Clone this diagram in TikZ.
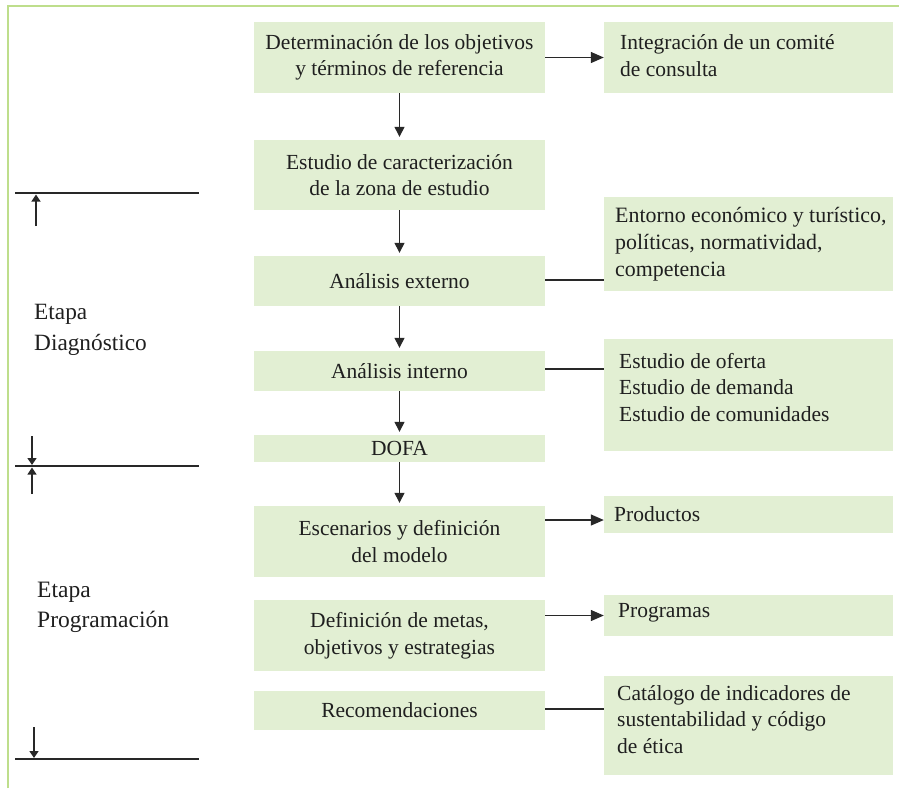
\documentclass[tikz,border=0pt]{standalone}
\usepackage{fontspec}
\setmainfont{Liberation Serif}
\usetikzlibrary{arrows.meta,calc}
\definecolor{boxgreen}{RGB}{226,239,211}
\definecolor{framegreen}{RGB}{190,222,140}
\definecolor{linegray}{RGB}{40,40,40}
\begin{document}
\begin{tikzpicture}[x=1pt,y=-1pt,
  every node/.style={font=\fontsize{21.5}{26.5}\selectfont, text=black!88},
  lbox/.style={fill=boxgreen, draw=none, minimum width=291pt, inner sep=0pt, align=center},
  rbox/.style={fill=boxgreen, draw=none, minimum width=289pt, inner sep=0pt},
  rtext/.style={anchor=base west, inner sep=0pt, align=left},
  conn/.style={draw=linegray, line width=1.3pt},
  arr/.style={conn, -{Triangle[length=10pt,width=10pt]}},
  harr/.style={conn, -{Triangle[length=13pt,width=11pt]}},
  sarr/.style={conn, -{Triangle[length=7pt,width=9pt]}},
]
\useasboundingbox (0,0) rectangle (899,788);
% frame
\coordinate (fA) at (8,788);
\coordinate (fB) at (8,6);
\coordinate (fC) at (899,6);
\draw[framegreen, line width=2.2pt] (fA) -- (fB) -- (fC);

% left column boxes
\node[lbox, minimum height=71pt] (b1) at (399.5,57.5) {Determinación de los objetivos\\y términos de referencia};
\node[lbox, minimum height=70pt] (b2) at (399.5,175) {Estudio de caracterización\\de la zona de estudio};
\node[lbox, minimum height=50pt] (b3) at (399.5,281) {Análisis externo};
\node[lbox, minimum height=40pt] (b4) at (399.5,371) {Análisis interno};
\node[lbox, minimum height=27pt] (b5) at (399.5,448.5) {DOFA};
\node[lbox, minimum height=71pt] (b6) at (399.5,541.5) {Escenarios y definición\\del modelo};
\node[lbox, minimum height=71pt] (b7) at (399.5,635.5) {Definición de metas,\\objetivos y estrategias};
\node[lbox, minimum height=39pt] (b8) at (399.5,710.5) {Recomendaciones};

% right column boxes
\node[rbox, minimum height=71pt] (ra) at (748.5,57.5) {};
\node[rbox, minimum height=94pt] (rb) at (748.5,244) {};
\node[rbox, minimum height=112pt] (rc) at (748.5,395) {};
\node[rbox, minimum height=37pt] (rd) at (748.5,514.5) {};
\node[rbox, minimum height=41pt] (re) at (748.5,615.5) {};
\node[rbox, minimum height=99pt] (rf) at (748.5,725.5) {};

% right texts (base anchor = baseline of last line)
\node[rtext] (ta) at (620,76) {Integración de un comité\\de consulta};
\node[rtext, font=\fontsize{21.9}{27}\selectfont] (tb) at (615,276) {Entorno económico y turístico,\\políticas, normatividad,\\competencia};
\node[rtext] (tc) at (619,421) {Estudio de oferta\\Estudio de demanda\\Estudio de comunidades};
\node[rtext] (td) at (614,521) {Productos};
\node[rtext] (te) at (618,617) {Programas};
\node[rtext] (tf) at (617,753) {Catálogo de indicadores de\\sustentabilidad y código\\de ética};

% vertical arrows
\draw[arr, shorten >=3pt] (b1) -- (b2);
\draw[arr, shorten >=3pt] (b2) -- (b3);
\draw[arr, shorten >=3pt] (b3) -- (b4);
\draw[arr, shorten >=3pt] (b4) -- (b5);
\draw[arr, shorten >=3pt] (b5) -- (b6);

% horizontal connectors
\draw[harr] (b1.east) -- (b1.east -| ra.west);
\draw[conn] ([yshift=1pt]b3.east) -- ([yshift=1pt]b3.east -| rb.west);
\draw[conn] ([yshift=2pt]b4.east) -- ([yshift=2pt]b4.east -| rc.west);
\draw[harr] ([yshift=-5.5pt]rd.west -| b6.east) -- ([yshift=-5.5pt]rd.west);
\draw[harr] (re.west -| b7.east) -- (re.west);
\draw[conn] ([yshift=1.5pt]b8.east) -- ([yshift=1.5pt]b8.east -| rf.west);

% left stage markers
\coordinate (h1a) at (15,193);  \coordinate (h1b) at (199,193);
\coordinate (h2a) at (15,466);  \coordinate (h2b) at (199,466);
\coordinate (h3a) at (15,759);  \coordinate (h3b) at (199,759);
\draw[conn] (h1a) -- (h1b);
\draw[conn] (h2a) -- (h2b);
\draw[conn] (h3a) -- (h3b);

\coordinate (u1s) at (36,226); \coordinate (u1e) at (36,194.5);
\coordinate (d1s) at (32,436); \coordinate (d1e) at (32,465);
\coordinate (u2s) at (32,494); \coordinate (u2e) at (32,467.5);
\draw[sarr] (u1s) -- (u1e);
\draw[sarr] (d1s) -- (d1e);
\draw[sarr] (u2s) -- (u2e);
\coordinate (d3s) at (34,727); \coordinate (d3e) at (34,758);
\draw[sarr] (d3s) -- (d3e);

\node[rtext, font=\fontsize{23.3}{31}\selectfont] (etd) at (34,350) {Etapa\\Diagnóstico};
\node[rtext, font=\fontsize{23.5}{30}\selectfont] (etp) at (37,627) {Etapa\\Programación};
\end{tikzpicture}
\end{document}
